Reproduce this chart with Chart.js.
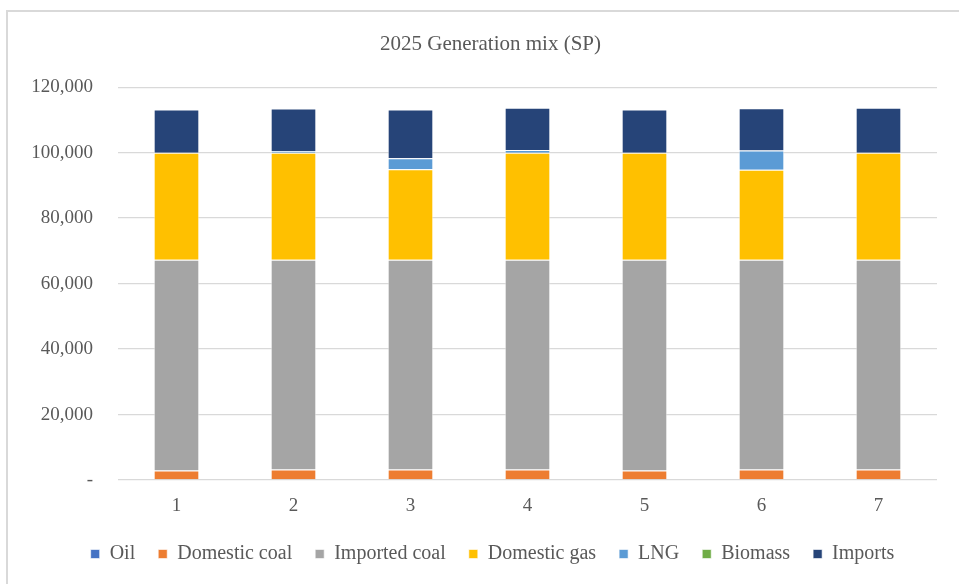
<!DOCTYPE html>
<html>
<head>
<meta charset="utf-8">
<title>2025 Generation mix (SP)</title>
<script src="https://cdn.jsdelivr.net/npm/chart.js@4/dist/chart.umd.min.js"></script>
<style>
  html, body { margin: 0; padding: 0; background: #fff; overflow: hidden; }
  #wrap { position: relative; width: 959px; height: 584px; }
  #frame {
    position: absolute; left: 6px; top: 10px; width: 1000px; height: 1000px;
    border: 2px solid #d9d9d9; box-sizing: border-box;
  }
  #chart { position: absolute; left: 0; top: 0; }
</style>
</head>
<body>
<div id="wrap">
  <div id="frame"></div>
  <canvas id="chart" width="959" height="584"></canvas>
</div>
<script>
const periods = ["1", "2", "3", "4", "5", "6", "7"];

const oil = [0, 0, 0, 0, 0, 0, 0];
const domesticCoal = [2900, 3200, 3200, 3200, 2900, 3200, 3200];
const importedCoal = [64400, 64100, 64100, 64100, 64400, 64100, 64100];
const domesticGas = [32700, 32700, 27600, 32700, 32700, 27500, 32700];
const lng = [0, 500, 3400, 800, 0, 5900, 0];
const biomass = [0, 0, 0, 0, 0, 0, 0];
const imports = [13200, 13000, 14900, 12900, 13200, 12900, 13700];

const yTicks = [0, 20000, 40000, 60000, 80000, 100000, 120000];

const textColor = "#595959";
const fontFamily = "'Liberation Serif', 'Times New Roman', serif";

const series = [
  { label: "Oil", data: oil, color: "#4472c4" },
  { label: "Domestic coal", data: domesticCoal, color: "#ed7d31" },
  { label: "Imported coal", data: importedCoal, color: "#a5a5a5" },
  { label: "Domestic gas", data: domesticGas, color: "#ffc000" },
  { label: "LNG", data: lng, color: "#5b9bd5" },
  { label: "Biomass", data: biomass, color: "#70ad47" },
  { label: "Imports", data: imports, color: "#264478" },
];

// title and legend sit centred on the frame, not on the plot box
const centreShift = {
  id: "centreShift",
  afterLayout(chart) {
    if (chart.titleBlock) {
      chart.titleBlock.left += 22;
      chart.titleBlock.right += 22;
    }
    if (chart.legend) {
      chart.legend.left += 24;
      chart.legend.right += 24;
    }
  },
};

const ctx = document.getElementById("chart").getContext("2d");

new Chart(ctx, {
  type: "bar",
  data: {
    labels: periods,
    datasets: series.map((s) => ({
      label: s.label,
      data: s.data,
      backgroundColor: s.color,
      borderColor: "rgba(255,255,255,0.6)",
      borderWidth: 1,
      barPercentage: 0.39,
      categoryPercentage: 1,
    })),
  },
  options: {
    responsive: false,
    devicePixelRatio: 1,
    animation: false,
    layout: { padding: { left: 0, right: 22, top: 0, bottom: 10 } },
    plugins: {
      title: {
        display: true,
        text: "2025 Generation mix (SP)",
        color: textColor,
        font: { family: fontFamily, size: 21, weight: "normal" },
        padding: { top: 32, bottom: 30 },
      },
      legend: {
        position: "bottom",
        labels: {
          color: textColor,
          font: { family: fontFamily, size: 20 },
          boxWidth: 9,
          boxHeight: 9,
          padding: 23,
        },
      },
      tooltip: { enabled: false },
    },
    scales: {
      x: {
        stacked: true,
        grid: { display: false },
        border: { display: false },
        ticks: {
          color: textColor,
          font: { family: fontFamily, size: 19 },
          padding: 7,
        },
        afterFit: (scale) => { scale.height = 41; },
      },
      y: {
        stacked: true,
        min: 0,
        max: 120000,
        afterBuildTicks: (scale) => {
          scale.ticks = yTicks.map((v) => ({ value: v }));
        },
        grid: { color: "#d9d9d9", lineWidth: 1.3, drawTicks: false },
        border: { display: false },
        ticks: {
          color: textColor,
          font: { family: fontFamily, size: 19 },
          padding: 25,
          callback: (v) => (v === 0 ? "-" : v.toLocaleString("en-US")),
        },
        afterFit: (scale) => { scale.width = 118; },
      },
    },
  },
  plugins: [centreShift],
});
</script>
</body>
</html>
